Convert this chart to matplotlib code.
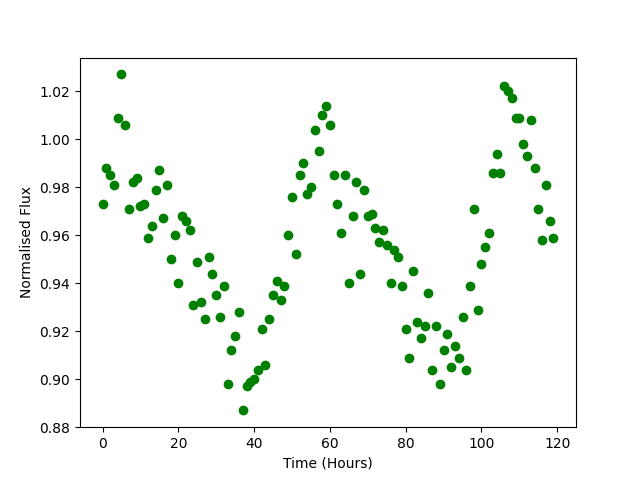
import matplotlib
matplotlib.use("Agg")
import matplotlib.pyplot as plt
import numpy as np

hours = list(range(120))
flux = [
    0.973, 0.988, 0.985, 0.981, 1.009, 1.027, 1.006, 0.971, 0.982, 0.984,
    0.972, 0.973, 0.959, 0.964, 0.979, 0.987, 0.967, 0.981, 0.950, 0.960,
    0.940, 0.968, 0.966, 0.962, 0.931, 0.949, 0.932, 0.925, 0.951, 0.944,
    0.935, 0.926, 0.939, 0.898, 0.912, 0.918, 0.928, 0.887, 0.897, 0.899,
    0.900, 0.904, 0.921, 0.906, 0.925, 0.935, 0.941, 0.933, 0.939, 0.960,
    0.976, 0.952, 0.985, 0.990, 0.977, 0.980, 1.004, 0.995, 1.010, 1.014,
    1.006, 0.985, 0.973, 0.961, 0.985, 0.940, 0.968, 0.982, 0.944, 0.979,
    0.968, 0.969, 0.963, 0.957, 0.962, 0.956, 0.940, 0.954, 0.951, 0.939,
    0.921, 0.909, 0.945, 0.924, 0.917, 0.922, 0.936, 0.904, 0.922, 0.898,
    0.912, 0.919, 0.905, 0.914, 0.909, 0.926, 0.904, 0.939, 0.971, 0.929,
    0.948, 0.955, 0.961, 0.986, 0.994, 0.986, 1.022, 1.020, 1.017, 1.009,
    1.009, 0.998, 0.993, 1.008, 0.988, 0.971, 0.958, 0.981, 0.966, 0.959,
]

fig, ax = plt.subplots(figsize=(6.4, 4.8), dpi=100)
ax.plot(hours, flux, 'o', color='green')
ax.set_xlabel('Time (Hours)')
ax.set_ylabel('Normalised Flux')
fig.savefig('out.png')
